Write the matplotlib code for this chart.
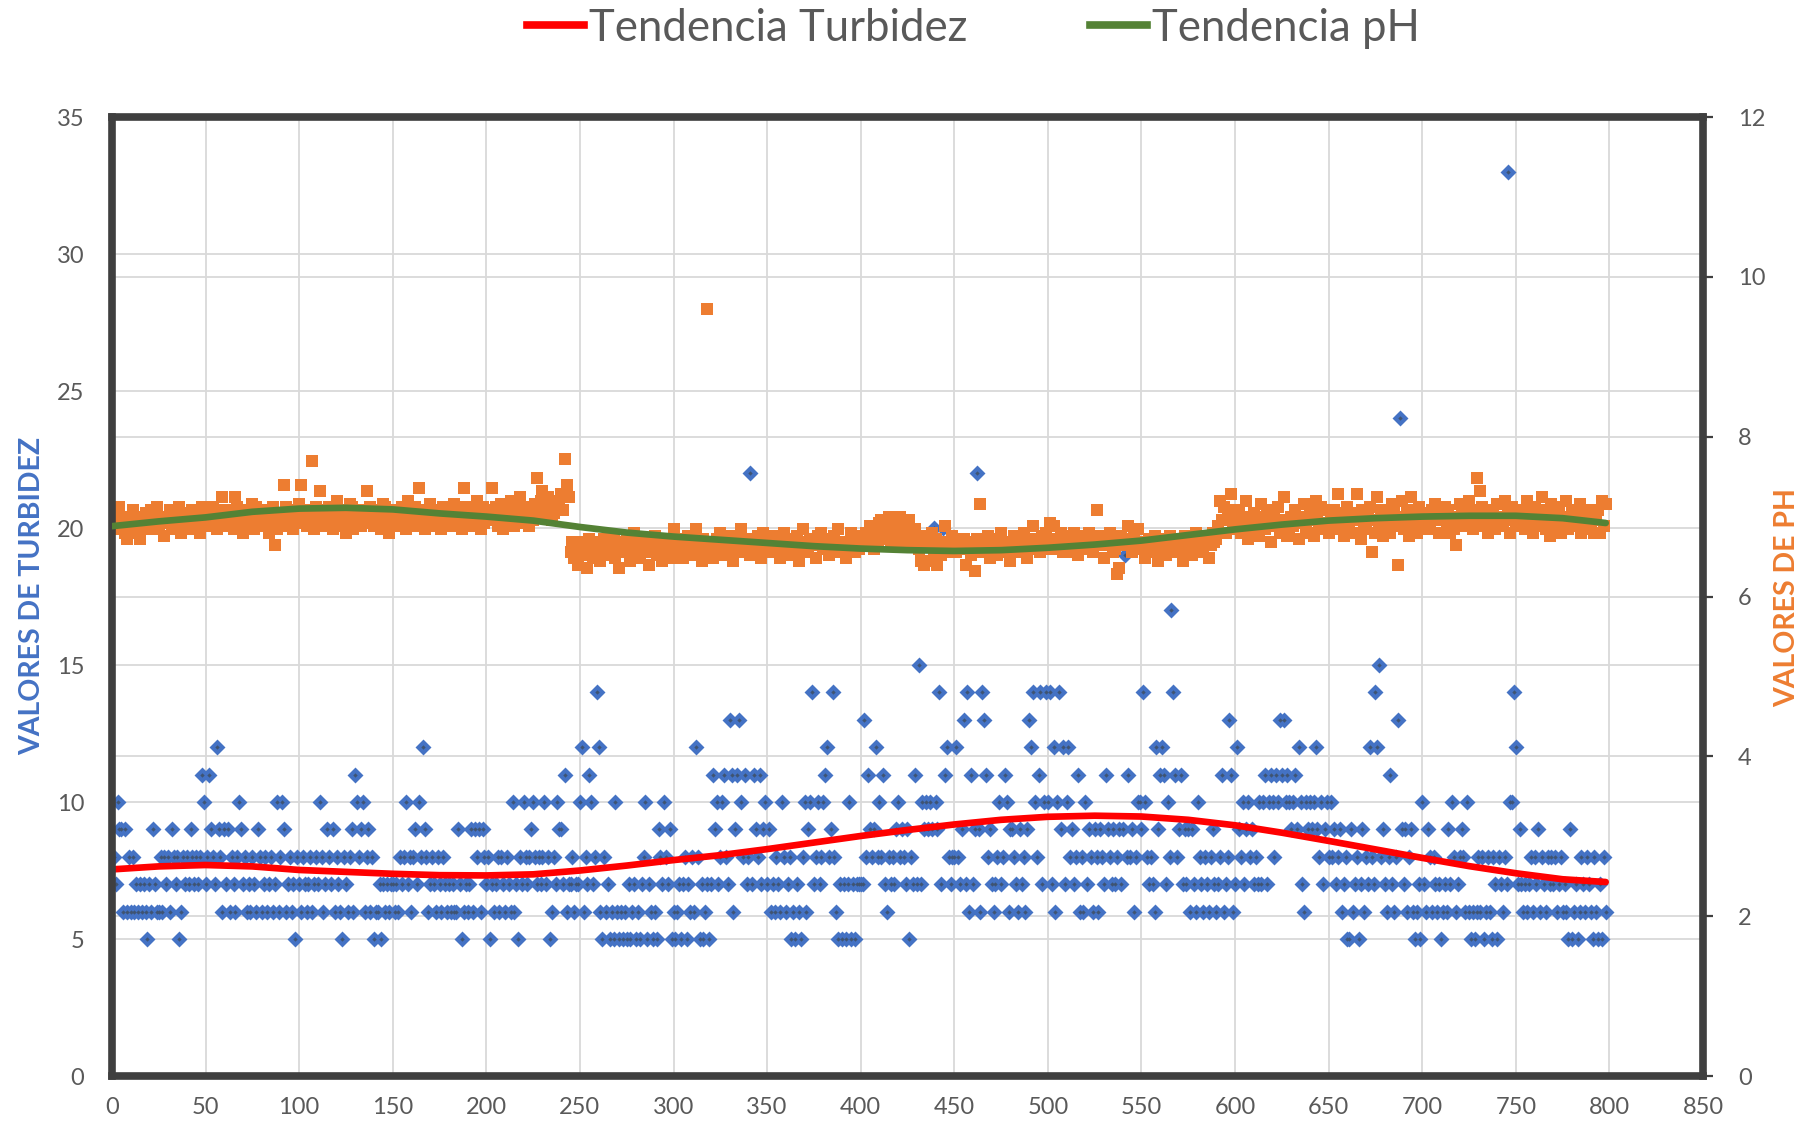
import numpy as np
import matplotlib
matplotlib.use("Agg")
import matplotlib.pyplot as plt
from matplotlib.lines import Line2D
from matplotlib.ticker import FixedLocator

plt.rcParams['font.family'] = ['Lato', 'DejaVu Sans']

# ---------------- data ----------------
# Turbidity of each sample, one base-36 character per sample:
# '5'..'9' -> 5..9, 'a'=10, 'b'=11, 'c'=12, 'd'=13, 'e'=14, 'f'=15,
# 'h'=17, 'j'=19, 'k'=20, 'm'=22, 'o'=24, 'x'=33
TURB_CODES = (
    "87a99 69686 86767 67657 69766 86878 69878 56878 79878 78ba7 "
    "8b987 c9869 79687 68a97 86768 76986 78678 67a68 a9678 67587 "
    "68767 86787 a8679 87968 76587 6896b a89a6 89685 66757 67677 "
    "67687 8a786 897a8 c9867 87687 68767 67669 75676 79698 96987 "
    "85767 86876 876a6 7587a 8789a 87878 a7856 87a99 7b677 8677a "
    "c687b a78ec 65867 565a6 56565 75675 6578a 57656 5987a 87956 "
    "56757 85768 6c857 56757 b9a78 ab87d b69bd a8b78 m7b98 b79a7 "
    "96768 76a86 78565 7658a 69ae7 8a78a bc89e 86575 757a5 75777 "
    "7d8b9 89c8a 8b768 7879a 89879 587b7 f7a9a 9a9ka 9e7kb c8788 "
    "c879d 7e6b7 9m96e db897 678a7 8ba69 98769 7869d cea8b e7aea "
    "e7c6a e9c7a c8978 b686a 79869 86987 b9879 78979 j8b89 68aa9 "
    "ea878 76c9b cb7a8 heb89 b7979 6976a 87687 68976 78b67 8db67 "
    "c98a7 9a897 87a7a b7aba 8badb daba9 ab9ca 76a9a 9ac98 a79a8 "
    "a8978 96785 59678 57968 7c87e cf897 68b76 8do97 96896 5675a "
    "76986 87675 67697 a8678 986a6 56568 68568 65875 87687 xaaec "
    "79767 67868 79687 68787 86786 76595 67568 76876 58657 586"
)
turbidez = [int(c, 36) for c in TURB_CODES.replace(" ", "")]
muestras_turb = list(range(1, len(turbidez) + 1))

# pH of each sample, one base-36 character per sample: pH = 6.20 + 0.04 * code
PH_CODES = (
    "kgjnhkfdih mjfkdiglhj mkgnhjkeij mglkhnfjik lgmhjkfnih "
    "jlhnkgmiqk hmjkgqnilf kmhjognkil mhkfjnbglk hunjlmgkio "
    "ujmhklzgnk simhjnlgkp jhmkfiongl kjhmlsinkh mljgonkfil "
    "kmhjnlgpik jnhtlkgmjo hkmlignjkh mjokhlgtnk jlhmpkgnil "
    "kmtjnhlogk mjplhnkqil nkhmjowlps mkqnjlonpr mzuq9c7a5b "
    "8ca4db79ac 6bd9a8ce7a 4cb9da68fb a7cd9b5ace 8ba6dc9a7g "
    "b9dc7abe8a cg9b6dazab 7cdaf8bc9e a6ebcg9dab 8dcaeb7fac "
    "b9ecad7bfa c8bdae6cgb 9adcb7ebfa cb8dae9gbc a7cbfd9eac "
    "dbfcheagci jegdkbhfci kfdhbjecgd a6e5cb6f7d 5c8bhac9eb "
    "9cabd5ac8b 3dao9cbe7a cb8dfa9cb6 aecb9dfa7c bhdac9ebfa "
    "ichbdaf9ec 9dbfc8eadb cfa9dmbec7 dbfc9a24ec bdhc9eagcb "
    "a7cdb9ea6c bd8aec9bda c6ebda8cfb 9dace7bfcd hpjnfmkrgi "
    "jmfkhpdigl ikeojgmhcj lhnfjqiegk hmjdkiogfl jepkhnigmf "
    "kgmirhlejn hlfkrjdmgi kn9jfqhmei ljfomh5kpg jmeqhkfnil "
    "kighmjolfk jnhmfkgbio lhkjpmgiwj snhkfmjlgo ikhpjmfnlh "
    "jmhkgpilfn khjqmgieoj lhnfkjpgim hkjoflhmgi kfjmfpho"
)
ph = [round(6.20 + 0.04 * int(c, 36), 2) for c in PH_CODES.replace(" ", "")]
ph_extremos = {107: 7.70, 242: 7.72, 318: 9.60}   # sample -> pH
for m, v in ph_extremos.items():
    ph[m - 1] = v
muestras_ph = list(range(1, len(ph) + 1))

# trend lines
tend_x = [0, 25, 50, 75, 100, 125, 150, 175, 200, 225, 250, 275, 300, 325,
          350, 375, 400, 425, 450, 475, 500, 525, 550, 575, 600, 625, 650,
          675, 700, 725, 750, 775, 798]
tend_turbidez = [7.54, 7.65, 7.70, 7.65, 7.52, 7.45, 7.38, 7.33, 7.32, 7.36,
                 7.50, 7.68, 7.88, 8.06, 8.28, 8.52, 8.76, 8.98, 9.18, 9.35,
                 9.46, 9.50, 9.47, 9.35, 9.15, 8.88, 8.58, 8.27, 7.96, 7.66,
                 7.40, 7.18, 7.08]
tend_ph = [6.88, 6.94, 6.99, 7.06, 7.10, 7.11, 7.09, 7.04, 7.00, 6.95, 6.87,
           6.80, 6.75, 6.71, 6.67, 6.63, 6.60, 6.58, 6.57, 6.58, 6.61, 6.65,
           6.70, 6.77, 6.84, 6.90, 6.95, 6.98, 7.00, 7.01, 7.01, 6.98, 6.92]

x_ticks = list(range(0, 851, 50))
turb_ticks = list(range(0, 36, 5))
ph_ticks = list(range(0, 13, 2))

# ---------------- styling ----------------
BLUE = '#4472C4'
BLUE_CORE = '#3f5472'
ORANGE = '#ED7D31'
RED = '#FF0000'
GREEN = '#548235'
GRID = '#d9d9d9'
TXT = '#595959'
FRAME = '#3f3f3f'

fig = plt.figure(figsize=(18.11, 11.24), dpi=100)
ax = fig.add_axes([0.0618, 0.0427, 0.8786, 0.8532])
ax2 = ax.twinx()

ax.set_xlim(0, 850)
ax.set_ylim(0, 35)
ax2.set_ylim(0, 12)
ax.xaxis.set_major_locator(FixedLocator(x_ticks))
ax.yaxis.set_major_locator(FixedLocator(turb_ticks))
ax2.yaxis.set_major_locator(FixedLocator(ph_ticks))
# gridlines of the secondary axis, expressed in primary units so they stay below markers
ax.yaxis.set_minor_locator(FixedLocator([t * 35 / 12 for t in ph_ticks[1:-1]]))
ax.set_axisbelow(True)
ax.grid(True, which='both', axis='y', color=GRID, lw=1.3)
ax.grid(True, which='major', axis='x', color=GRID, lw=1.3)

ax.tick_params(axis='y', which='both', length=0, labelsize=17, labelcolor=TXT, pad=20)
ax.tick_params(axis='x', length=0, labelsize=17, labelcolor=TXT, pad=15)
ax2.tick_params(axis='y', length=7, width=1.6, color=FRAME, direction='out',
                labelsize=17, labelcolor=TXT, pad=18)

for s in ax.spines.values():
    s.set_visible(False)
for s in ax2.spines.values():
    s.set_linewidth(5.5)
    s.set_color(FRAME)

ax.scatter(muestras_turb, turbidez, marker='D', s=66, color=BLUE, linewidths=0, zorder=2)
ax.scatter(muestras_turb, turbidez, marker='D', s=5, color=BLUE_CORE, linewidths=0, zorder=2.1)
ax.plot(tend_x, tend_turbidez, color=RED, lw=4.8, solid_capstyle='round', zorder=3)
ax2.scatter(muestras_ph, ph, marker='s', s=66, color=ORANGE, linewidths=0, zorder=2)
ax2.plot(tend_x, tend_ph, color=GREEN, lw=4.8, solid_capstyle='round', zorder=3)

fig.text(0.0177, 0.470, 'VALORES DE TURBIDEZ', rotation=90, ha='center', va='center',
         color=BLUE, fontsize=20.5, fontweight='bold')
fig.text(0.987, 0.468, 'VALORES DE PH', rotation=90, ha='center', va='center',
         color=ORANGE, fontsize=20.5, fontweight='bold')

handles = [Line2D([], [], color=RED, lw=5.5), Line2D([], [], color=GREEN, lw=5.5)]
fig.legend(handles, ['Tendencia Turbidez', 'Tendencia pH'], loc='center',
           bbox_to_anchor=(0.5375, 0.975), ncol=2, frameon=False, fontsize=31.5,
           handlelength=1.3, handletextpad=0.12, columnspacing=2.8, labelcolor=TXT)

fig.savefig('out.png', dpi=100)
